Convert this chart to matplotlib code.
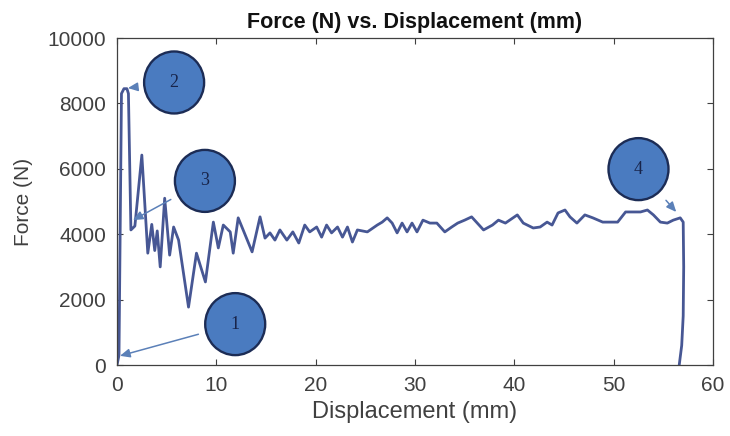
import matplotlib
matplotlib.use("Agg")
import matplotlib.pyplot as plt
from matplotlib.patches import Ellipse

# ---- data ----
disp = [0.0, 0.2, 0.45, 0.7, 1.0, 1.15, 1.4, 1.8, 2.5, 3.1, 3.5, 3.8, 4.05, 4.35,
        4.8, 5.3, 5.7, 6.2, 7.2, 8.0, 8.9, 9.7, 10.2, 10.7, 11.4, 11.7, 12.2,
        12.7, 13.6, 14.4, 14.9, 15.4, 15.9, 16.4, 17.1, 17.7, 18.3, 18.9, 19.4,
        20.1, 20.6, 21.1, 21.6, 22.2, 22.7, 23.2, 23.7, 24.2, 25.2, 26.2, 26.7,
        27.2, 27.7, 28.2, 28.7, 29.2, 29.7, 30.2, 30.8, 31.5, 32.2, 33.0, 33.7,
        34.3, 35.0, 35.7, 36.9, 37.8, 38.4, 39.1, 40.3, 40.9, 41.9, 42.6, 43.3,
        43.8, 44.4, 45.1, 45.6, 46.3, 47.1, 47.9, 48.9, 50.4, 51.2, 51.9, 52.7,
        53.4, 54.0, 54.7, 55.4, 56.0, 56.7, 57.0, 57.05, 57.0, 56.85, 56.6]
force = [0, 300, 8300, 8450, 8450, 8300, 4130, 4250, 6420, 3420, 4300, 3500,
         4100, 3000, 5100, 3360, 4220, 3820, 1770, 3420, 2540, 4370, 3580, 4280,
         4070, 3420, 4500, 4130, 3460, 4530, 3880, 4040, 3820, 4130, 3820, 4070,
         3730, 4280, 4070, 4220, 3910, 4280, 4040, 4220, 3910, 4220, 3760, 4130,
         4070, 4280, 4370, 4500, 4340, 4040, 4340, 4070, 4340, 4070, 4430, 4340,
         4340, 4070, 4220, 4340, 4430, 4530, 4130, 4280, 4430, 4340, 4590, 4340,
         4190, 4220, 4370, 4280, 4650, 4740, 4530, 4340, 4590, 4500, 4370, 4370,
         4680, 4680, 4680, 4740, 4590, 4370, 4340, 4430, 4500, 4370, 3000, 1500,
         600, 0]

labels = ["1", "2", "3", "4"]
label_xy = [(11.9, 1250), (5.75, 8640), (8.85, 5630), (52.5, 5990)]
target_xy = [(0.3, 280), (1.1, 8470), (1.6, 4430), (56.3, 4680)]

x_ticks = [0, 10, 20, 30, 40, 50, 60]
y_ticks = [0, 2000, 4000, 6000, 8000, 10000]

# ---- figure ----
plt.rcParams['font.family'] = ['Liberation Sans', 'DejaVu Sans']
W, H = 730, 436
fig = plt.figure(figsize=(W / 100, H / 100), dpi=100)
ax = fig.add_axes([117 / W, 1 - 365 / H, (713 - 117) / W, (365 - 38) / H])

ax.plot(disp, force, color='#475794', lw=2.0, zorder=2)

ax.set_xlim(0, 60)
ax.set_ylim(0, 10000)
ax.set_xticks(x_ticks)
ax.set_yticks(y_ticks)
ax.tick_params(direction='in', top=True, right=True, length=4, width=0.8,
               colors='#404040', labelsize=15)
ax.tick_params(axis='x', pad=8)
ax.tick_params(axis='y', pad=8)
for s in ax.spines.values():
    s.set_color('#404040')
    s.set_linewidth(0.9)

ax.set_title('Force (N) vs. Displacement (mm)', fontsize=15.5, fontweight='bold',
             color='#111111', pad=7)
ax.set_xlabel('Displacement (mm)', fontsize=17, color='#404040', labelpad=4)
ax.set_ylabel('Force (N)', fontsize=15, color='#404040', labelpad=10)

# circle callouts
cw = 60 / ((713 - 117) / 60)      # width in data units (x)
ch = 62 / ((365 - 38) / 10000)    # height in data units (y)
for lab, c, t in zip(labels, label_xy, target_xy):
    e = Ellipse(c, cw, ch, facecolor='#4a7bc0', edgecolor='#1c2c55', lw=1.7,
                zorder=5, clip_on=False)
    ax.add_patch(e)
    ax.annotate(lab, xy=t, xytext=c, ha='center', va='center', fontsize=13,
                family=['Liberation Serif', 'DejaVu Serif'], color='#18244a',
                zorder=6, annotation_clip=False,
                arrowprops=dict(arrowstyle='-|>,head_length=0.45,head_width=0.2',
                                color='#5b80b8', lw=1.1, shrinkA=22, shrinkB=0))

fig.savefig('out.png', dpi=100)
